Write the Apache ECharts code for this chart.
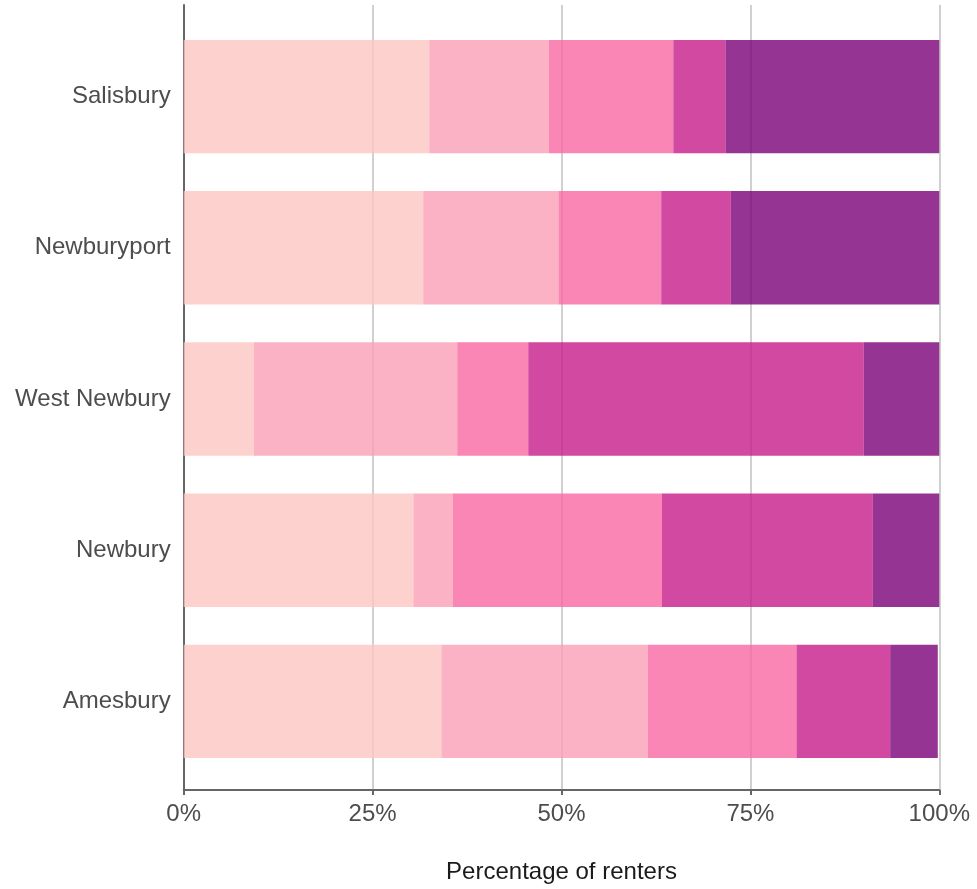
<!DOCTYPE html>
<html>
<head>
<meta charset="utf-8">
<style>
  html, body { margin: 0; padding: 0; background: #ffffff; }
  #chart { width: 977px; height: 889px; }
</style>
<script src="https://cdn.jsdelivr.net/npm/echarts@6/dist/echarts.min.js"></script>
</head>
<body>
<div id="chart"></div>
<script>
// Categories (top to bottom)
const categories = ['Salisbury', 'Newburyport', 'West Newbury', 'Newbury', 'Amesbury'];

// Stacked segment shares (% of renters), left to right
const segment1 = [32.5, 31.7, 9.3, 30.4, 34.1];
const segment2 = [15.8, 17.9, 26.9, 5.2, 27.3];
const segment3 = [16.5, 13.6, 9.4, 27.7, 19.7];
const segment4 = [6.9, 9.2, 44.4, 27.9, 12.4];
const segment5 = [28.3, 27.6, 10.0, 8.8, 6.3];

const segmentNames = ['Segment 1', 'Segment 2', 'Segment 3', 'Segment 4', 'Segment 5'];
const segmentColors = ['#fcc5c0', '#fa9fb5', '#f768a1', '#c51b8a', '#7a0177'];
const tickLabels = ['0%', '25%', '50%', '75%', '100%'];
const axisTitle = 'Percentage of renters';

const segments = [segment1, segment2, segment3, segment4, segment5];
const FONT = '"Liberation Sans", Arial, Helvetica, sans-serif';

const chart = echarts.init(document.getElementById('chart'), null, { renderer: 'canvas' });

const option = {
  animation: false,
  backgroundColor: '#ffffff',
  grid: [
    { left: 183.7, right: 37.7, top: 21, height: 756, containLabel: false },
    { left: 183.7, right: 37.7, top: 5, bottom: 98, containLabel: false }
  ],
  xAxis: [
    {
      gridIndex: 0, type: 'value', min: 0, max: 100, interval: 25,
      show: false
    },
    {
      gridIndex: 1, type: 'value', min: 0, max: 100, interval: 25,
      axisLine: { show: true, onZero: false, lineStyle: { color: '#666666', width: 2 } },
      axisTick: { show: true, length: 5, lineStyle: { color: '#666666', width: 2 } },
      axisLabel: {
        show: true, margin: 12, fontSize: 24, color: '#4d4d4d', fontFamily: FONT,
        formatter: function (v) { return tickLabels[Math.round(v / 25)]; }
      },
      splitLine: { show: true, lineStyle: { color: '#d0d0d0', width: 2 } },
      name: axisTitle,
      nameLocation: 'middle',
      nameGap: 70,
      nameTextStyle: { fontSize: 24, color: '#1a1a1a', fontFamily: FONT }
    }
  ],
  yAxis: [
    {
      gridIndex: 0, type: 'category', data: categories, inverse: true,
      axisLine: { show: false }, axisTick: { show: false },
      axisLabel: { show: true, margin: 13, fontSize: 24, color: '#4d4d4d', fontFamily: FONT, padding: [4, 0, 0, 0] },
      splitLine: { show: false }
    },
    {
      gridIndex: 1, type: 'value', min: 0, max: 1,
      axisLine: { show: true, onZero: false, lineStyle: { color: '#666666', width: 2 } },
      axisTick: { show: false }, axisLabel: { show: false }, splitLine: { show: false }
    }
  ],
  series: segments.map(function (vals, i) {
    return {
      name: segmentNames[i],
      type: 'bar',
      stack: 'total',
      xAxisIndex: 0,
      yAxisIndex: 0,
      data: vals,
      barCategoryGap: '25%',
      itemStyle: { color: segmentColors[i], opacity: 0.8 },
      emphasis: { disabled: true }
    };
  })
};

chart.setOption(option);
</script>
</body>
</html>
